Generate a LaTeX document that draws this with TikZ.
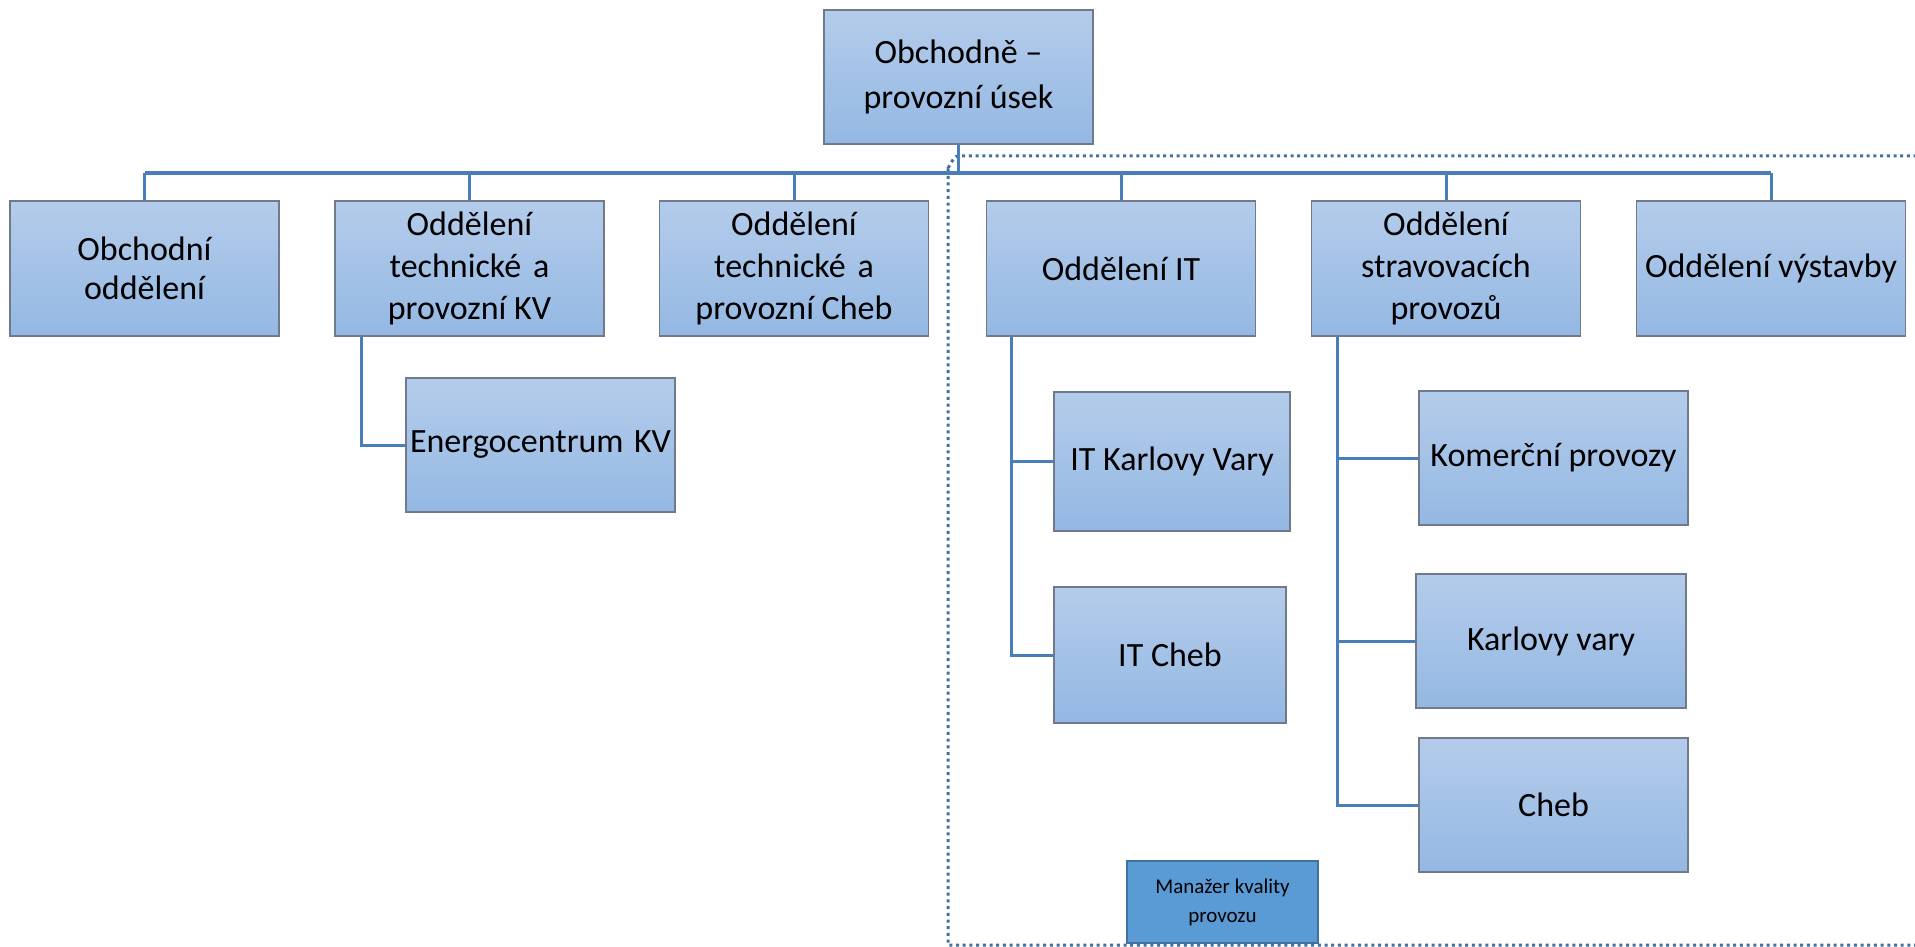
\documentclass[tikz,border=0pt]{standalone}
\usepackage{fontspec}
\setmainfont{Carlito}
\definecolor{boxtop}{RGB}{180,204,235}
\definecolor{boxbot}{RGB}{148,184,227}
\definecolor{boxline}{RGB}{112,122,138}
\definecolor{conncol}{RGB}{74,126,187}
\definecolor{dotcol}{RGB}{65,113,156}
\definecolor{mgrfill}{RGB}{91,155,213}
\definecolor{mgrline}{RGB}{65,113,156}
\begin{document}
\begin{tikzpicture}[x=1pt,y=-1pt,
  orgbox/.style={draw=boxline, line width=1.5pt, top color=boxtop, bottom color=boxbot,
    rectangle, inner sep=0pt, align=center, font=\fontsize{34}{42}\selectfont},
  conn/.style={draw=conncol, line width=3pt},
  busline/.style={draw=conncol, line width=3.5pt},
  dotline/.style={draw=dotcol, line width=3pt, dash pattern=on 3pt off 3.7pt},
  mgr/.style={draw=mgrline, line width=2.5pt, fill=mgrfill, rectangle, inner sep=0pt,
    align=center, font=\fontsize{21}{29}\selectfont}]
\useasboundingbox (0,0) rectangle (1915,947);

% dotted region
\draw[dotline] (1930,156) -- (958,156) to[out=180,in=-90] (948,166) -- (948,945) -- (1930,945);

% nodes
\node[orgbox, minimum width=269pt, minimum height=134pt, font=\fontsize{34}{45}\selectfont] (top) at (958.5,77) {Obchodně –\\provozní úsek};

\node[orgbox, minimum width=269pt, minimum height=135pt, font=\fontsize{34}{39}\selectfont] (b1) at (144.5,268.5) {Obchodní\\oddělení};
\node[orgbox, minimum width=269pt, minimum height=135pt] (b2) at (469.5,268.5) {Oddělení\\technické\hspace{0.12em} a\\provozní KV};
\node[orgbox, minimum width=269pt, minimum height=135pt] (b3) at (794,268.5) {Oddělení\\technické\hspace{0.12em} a\\provozní Cheb};
\node[orgbox, minimum width=269pt, minimum height=135pt] (b4) at (1121,268.5) {Oddělení IT};
\node[orgbox, minimum width=269pt, minimum height=135pt] (b5) at (1446,268.5) {Oddělení\\stravovacích\\provozů};
\node[orgbox, minimum width=269pt, minimum height=135pt] (b6) at (1771,268.5) {Oddělení výstavby};

\node[orgbox, minimum width=269pt, minimum height=134pt] (energo) at (540.5,445) {Energocentrum\hspace{0.08em} KV};

\node[orgbox, minimum width=236pt, minimum height=139pt] (itkv) at (1172,461.5) {IT Karlovy Vary};
\node[orgbox, minimum width=232pt, minimum height=136pt] (itcheb) at (1170,655) {IT Cheb};

\node[orgbox, minimum width=269pt, minimum height=134pt] (komer) at (1553.5,458) {Komerční provozy};
\node[orgbox, minimum width=270pt, minimum height=134pt] (kvary) at (1551,641) {Karlovy vary};
\node[orgbox, minimum width=269pt, minimum height=134pt] (cheb) at (1553.5,805) {Cheb};

\node[mgr, minimum width=191pt, minimum height=82pt] (mgr) at (1222.5,902) {Manažer kvality\\provozu};

% bus
\coordinate (busL) at (144.5,173);
\coordinate (busR) at (1771,173);
\draw[busline] (busL) -- (busR);
\draw[busline] (top.south) -- (top.south |- busL);
\foreach \b in {b1,b2,b3,b4,b5,b6}{
  \draw[conn] (\b.north |- busL) -- (\b.north);
}

% sub connectors
\draw[conn] ([xshift=27pt]b2.south west) |- (energo.west);
\draw[conn] ([xshift=26pt]b4.south west) |- (itcheb.west);
\draw[conn] ([xshift=26pt]b4.south west |- itkv.west) -- (itkv.west);
\draw[conn] ([xshift=27pt]b5.south west) |- (cheb.west);
\draw[conn] ([xshift=27pt]b5.south west |- komer.west) -- (komer.west);
\draw[conn] ([xshift=27pt]b5.south west |- kvary.west) -- (kvary.west);
\end{tikzpicture}
\end{document}
